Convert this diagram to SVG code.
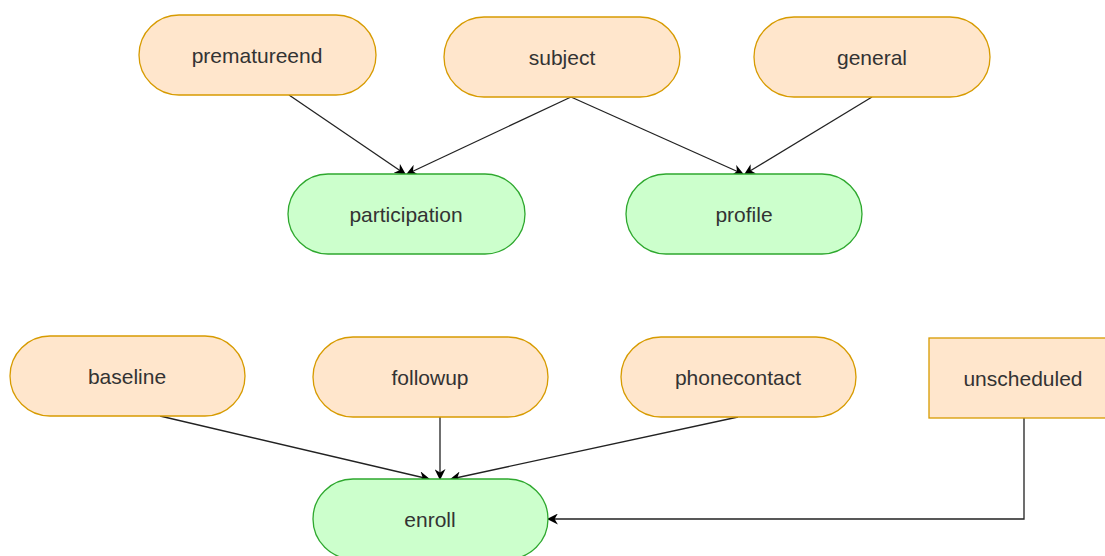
<svg xmlns="http://www.w3.org/2000/svg" width="1105" height="556" viewBox="0 0 1105 556">
<defs>
<marker id="arr" viewBox="0 0 10 10" refX="9" refY="5" markerWidth="11" markerHeight="11" markerUnits="userSpaceOnUse" orient="auto">
<path d="M0,0 L10,5 L0,10 L3,5 Z" fill="#000"/>
</marker>
<style>
.o{fill:#ffe6cc;stroke:#d79b00;stroke-width:1.3}
.g{fill:#ccffcc;stroke:#2ea82e;stroke-width:1.3}
.t{font-family:"Liberation Sans",Arial,sans-serif;font-size:21px;fill:#333;text-anchor:middle;dominant-baseline:central}
.c{fill:none;stroke:#222;stroke-width:1.3;marker-end:url(#arr)}
</style>
</defs>
<rect width="1105" height="556" fill="#fff"/>
<g id="connectors">
<path class="c" d="M289,95 L405,174"/>
<path class="c" d="M571,97 L407,174"/>
<path class="c" d="M571,97 L743,174"/>
<path class="c" d="M872,97 L745,174"/>
<path class="c" d="M160,416 L429,479"/>
<path class="c" d="M440,417 L440,479"/>
<path class="c" d="M738,417 L451,479"/>
<path class="c" d="M1024,418 L1024,519 L548,519"/>
</g>
<g id="prematureend"><rect class="o" x="139" y="15" width="237" height="80" rx="40"/><text class="t" x="257" y="55">prematureend</text></g>
<g id="subject"><rect class="o" x="444" y="17" width="236" height="80" rx="40"/><text class="t" x="562" y="57">subject</text></g>
<g id="general"><rect class="o" x="754" y="17" width="236" height="80" rx="40"/><text class="t" x="872" y="57">general</text></g>
<g id="participation"><rect class="g" x="288" y="174" width="237" height="80" rx="40"/><text class="t" x="406" y="214">participation</text></g>
<g id="profile"><rect class="g" x="626" y="174" width="236" height="80" rx="40"/><text class="t" x="744" y="214">profile</text></g>
<g id="baseline"><rect class="o" x="10" y="336" width="235" height="80" rx="40"/><text class="t" x="127" y="376">baseline</text></g>
<g id="followup"><rect class="o" x="313" y="337" width="235" height="80" rx="40"/><text class="t" x="430" y="377">followup</text></g>
<g id="phonecontact"><rect class="o" x="621" y="337" width="235" height="80" rx="40"/><text class="t" x="738" y="377">phonecontact</text></g>
<g id="unscheduled"><rect class="o" x="929" y="338" width="190" height="80"/><text class="t" x="1023" y="378">unscheduled</text></g>
<g id="enroll"><rect class="g" x="313" y="479" width="235" height="80" rx="40"/><text class="t" x="430" y="519">enroll</text></g>
</svg>
